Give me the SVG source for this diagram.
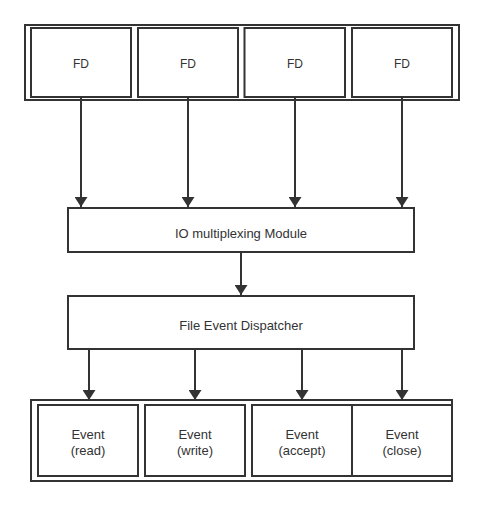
<svg xmlns="http://www.w3.org/2000/svg" width="484" height="507" viewBox="0 0 484 507">
<defs>
<style>
.box{fill:#fff;stroke:#333;stroke-width:2}
.outer{fill:none;stroke:#333;stroke-width:2}
.t{font-family:"Liberation Sans",Arial,sans-serif;font-size:13px;fill:#333;text-anchor:middle;dominant-baseline:central}
.fd{font-size:12px}
.c{stroke:#333;stroke-width:2;fill:none;marker-end:url(#ah)}
</style>
<marker id="ah" viewBox="0 0 10 13" refX="10" refY="6.5" markerWidth="10" markerHeight="13" markerUnits="userSpaceOnUse" orient="auto">
<path d="M0,0 L10,6.5 L0,13 Z" fill="#333" transform="rotate(0)"/>
</marker>
</defs>
<rect width="484" height="507" fill="#fff"/>
<g id="fd-group">
<rect class="outer" x="25" y="25" width="434" height="75"/>
</g>
<g id="fd1"><rect class="box" x="31" y="28" width="100" height="69"/><text class="t fd" x="81" y="64">FD</text></g>
<g id="fd2"><rect class="box" x="138" y="28" width="100" height="69"/><text class="t fd" x="188" y="64">FD</text></g>
<g id="fd3"><rect class="box" x="244.5" y="28" width="100.5" height="69"/><text class="t fd" x="295" y="64">FD</text></g>
<g id="fd4"><rect class="box" x="352" y="28" width="100" height="69"/><text class="t fd" x="402" y="64">FD</text></g>
<g id="io"><rect class="box" x="68" y="208" width="346" height="44"/><text class="t" x="241" y="233">IO multiplexing Module</text></g>
<g id="dispatcher"><rect class="box" x="68" y="296" width="346" height="53"/><text class="t" x="241" y="325">File Event Dispatcher</text></g>
<g id="event-group"><rect class="outer" x="31" y="400" width="421" height="81"/></g>
<g id="ev1"><rect class="box" x="38" y="405" width="100" height="71"/><text class="t" x="88" y="434">Event</text><text class="t" x="88" y="450">(read)</text></g>
<g id="ev2"><rect class="box" x="145" y="405" width="100" height="71"/><text class="t" x="195" y="434">Event</text><text class="t" x="195" y="450">(write)</text></g>
<g id="ev3"><rect class="box" x="252" y="405" width="100" height="71"/><text class="t" x="302" y="434">Event</text><text class="t" x="302" y="450">(accept)</text></g>
<g id="ev4"><rect class="box" x="352" y="405" width="100" height="71"/><text class="t" x="402" y="434">Event</text><text class="t" x="402" y="450">(close)</text></g>
<g id="connectors">
<path class="c" d="M81,98 V207"/>
<path class="c" d="M188,98 V207"/>
<path class="c" d="M295,98 V207"/>
<path class="c" d="M402,98 V207"/>
<path class="c" d="M241,253 V295"/>
<path class="c" d="M89,350 V400"/>
<path class="c" d="M195,350 V400"/>
<path class="c" d="M302,350 V400"/>
<path class="c" d="M402,350 V400"/>
</g>
</svg>
